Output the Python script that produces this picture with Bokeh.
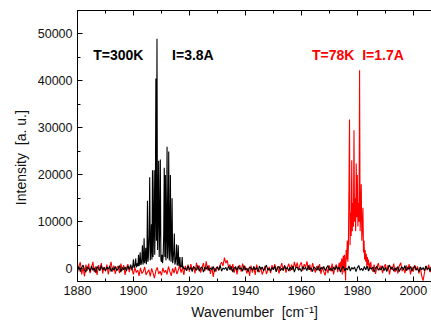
import numpy as np
from bokeh.plotting import figure
from bokeh.models import Range1d, LinearAxis, SingleIntervalTicker, Label
from bokeh.embed import file_html
from bokeh.resources import INLINE

# ---------------- data ----------------
# Black spectrum: T=300K, I=3.8A
black_a_start, black_a_step = 1880.0, 0.5
black_a = [-300, 500, -600, 300, 800, -200, -700, 400, 100, -500,
           600, -300, 200, -800, 500, 0, -400, 700, -200, 300,
           -500, 400, -100, 600, -600, 200, -300, 500, -400, 100,
           700, -700, 300, -200, 400, -500, 600, -100, 900, -300]
black_b_start, black_b_step = 1899.6, 0.2
black_b = [300, 800, 2000, 200, 600, 900, 2200, 300, 700, 1200,
           500, 3000, 600, 1400, 3500, 800, 1100, 2200, 5000, 900,
           1800, 6500, 1200, 2000, 4500, 1000, 2400, 14500, 1500, 3500,
           7000, 19500, 1800, 4000, 9500, 2000, 21000, 2500, 8000, 21000,
           3000, 11000, 40500, 6000, 49000, 4000, 12000, 23000, 2500, 9000,
           23300, 2000, 1500, 3000, 1200, 2600, 7000, 21500, 2500, 20000,
           1800, 6500, 26000, 2200, 5500, 25000, 1800, 4500, 20000, 1500,
           3500, 15000, 1200, 2000, 3800, 7500, 900, 1500, 2500, 5200,
           700, 1300, 5000, 600, 900, 2500, 300, 700, 400, 2500,
           200, 500, -100]
black_c_start, black_c_step = 1918.5, 0.5
black_c = [200, -400, 600, -200, 300, -600, 500, 100, -300, 700,
           -500, 200, 400, -700, 300, -100, 600, -400, 200, -200,
           500, -600, 100, 400, -300, 700, -500, 200, -100, 300,
           -400, 600, -200, 500, -700, 200, 300, -300, 600, -100,
           200, -500, 700, -200, 100, -600, 400, 200, -300, 500,
           -200, 300, -700, 600, -100, 400, -400, 200, 800, -300,
           100, -500, 300, -200, 600, -600, 200, 500, -400, 100,
           -300, 700, -100, 300, -500, 400, -200, 600, -700, 200,
           400, -300, 100, -600, 500, -100, 300, -400, 700, -200,
           200, -600, 400, 100, -300, 600, -500, 300, -100, 500,
           -400, 200, 700, -300, 100, -500, 400, -200, 600, -100,
           300, -700, 200, 500, -400, 100, -200, 600, -500, 300,
           -100, 400, -600, 200, 700, -300, 100, -400, 500, -200,
           600, -500, 300, -100, 400, -700, 200, 500, -300, 100,
           -200, 600, -400, 300, -600, 200, 800, -100, 400, -500,
           200, -300, 500, -600, 100, 400, -200, 700, -400, 300,
           -100, 500, -500, 200, 600, -300, 100, -600, 400, -200,
           300, -400, 600, -100, 200, -500, 700, -300, 100, 400]

# Red spectrum: T=78K, I=1.7A
red_a_start, red_a_step = 1880.0, 0.5
red_a = [-800, 600, 1400, -1200, 300, -1600, 900, -400, 1100, -900,
         200, 1500, -700, 500, -1300, 800, -300, 1200, -1000, 400,
         -500, 900, -1200, 300, 1500, -600, 700, -1100, 200, 600,
         -900, 1100, -400, 800, -1300, 200, 1000, -700, 400, -200,
         -1200, 300, -800, -300, -1500, 200, -1000, -600, 400, -1300,
         -700, -200, -1600, 100, -900, -2000, -400, 300, -1100, -500,
         -1400, 200, -800, -300, -1200, 500, -600, -1500, 100, -900,
         400, -1100, -300, 700, -800, 200, -1300, 600, -400, 900,
         -600, 1000, -300, 500, -1000, 1300, -200, 700, -800, 300,
         1200, -500, 1600, -300, 800, -1100, 400, -1700, 200, -600,
         500, -300, 900, 1400, 600, 2400, 1200, 1800, 300, 900,
         -400, 1000, -800, 600, -1200, 300, 800, -600, 1100, -300,
         500, -1000, 200, -1500, 700, -800, 400, -1300, 900, -200,
         -700, 300, -1200, -400, 600, -1100, -300, 400, -900, 800,
         -200, 1000, -600, 500, -1000, 200, 1200, -400, 700, -800,
         300, 1100, -500, 900, -300, 1500, 200, 1300, -200, 800,
         1400, -400, 1000, 300, 1600, -200, 900, -600, 1200, 100,
         -800, 600, -300, 1000, -1100, 400, -600, -1400, 300, -900,
         700, -500, 1100, -1200, 400, 900, -700, 1300]
red_b_start, red_b_step = 1973.6, 0.2
red_b = [800, -500, 1500, 300, 2200, -1200, 1800, 2800, -800, 3000,
         1500, -2500, 4000, 2000, 6000, 1500, 4500, 17000, 31800, 5000,
         12000, 7000, 23100, 8000, 14000, 9000, 29500, 10000, 15000, 8000,
         22400, 11000, 20000, 9000, 14000, 10000, 42300, 8000, 12000, 18000,
         6000, 9000, 13000, 3500, 6000, 2000, 4000, 1500, 3200, 500,
         2500, 800, 2000, -300, 1200, 400, 1500, 200]
red_c_start, red_c_step = 1985.5, 0.5
red_c = [-600, 900, -1100, 400, 1200, -300, 700, -900, 300, 1000,
         -400, 800, -1200, 500, -200, 1100, -700, 300, -1000, 600,
         1300, -500, 200, -900, 700, -300, 1000, -1200, 400, -600,
         800, -200, 500, -1000, 300, -1500, -2500, -800, 600, -300,
         900, -700, 400, -1100, 200]

x_ticks_interval = 20
y_ticks_interval = 10000
top_tick_values = [1860, 1880, 1900, 1920, 1940, 1960, 1980, 2000, 2020]


def sampled(start, step, vals):
    return [start + step * i for i in range(len(vals))]


bx = (sampled(black_a_start, black_a_step, black_a)
      + sampled(black_b_start, black_b_step, black_b)
      + sampled(black_c_start, black_c_step, black_c))
by = black_a + black_b + black_c
rx = (sampled(red_a_start, red_a_step, red_a)
      + sampled(red_b_start, red_b_step, red_b)
      + sampled(red_c_start, red_c_step, red_c))
ry = red_a + red_b + red_c

FONT = "Liberation Sans"

p = figure(width=431, height=324,
           x_range=Range1d(1880, 2006.5), y_range=Range1d(-2700, 55000),
           output_backend="svg", toolbar_location=None,
           min_border_left=77, min_border_right=0,
           min_border_top=10, min_border_bottom=43,
           x_axis_location=None, y_axis_location=None)
p.outline_line_color = None
p.xgrid.visible = False
p.ygrid.visible = False
p.background_fill_color = "white"
p.border_fill_color = "white"

xt = SingleIntervalTicker(interval=x_ticks_interval, num_minor_ticks=2)
yt = SingleIntervalTicker(interval=y_ticks_interval, num_minor_ticks=2)


def style_axis(ax):
    ax.axis_line_color = "black"
    ax.axis_line_width = 1
    ax.major_tick_in = 5
    ax.major_tick_out = 0
    ax.minor_tick_in = 3
    ax.minor_tick_out = 0
    ax.major_tick_line_color = "black"
    ax.minor_tick_line_color = "black"
    ax.major_label_text_font = FONT
    ax.major_label_text_font_size = "12.5px"
    ax.major_label_text_color = "#111111"
    ax.axis_label_text_font = FONT
    ax.axis_label_text_font_size = "14px"
    ax.axis_label_text_font_style = "normal"
    ax.axis_label_text_color = "#111111"


bottom = LinearAxis(ticker=xt, axis_label="Wavenumber\u00a0\u00a0[cm\u207b\u00b9]")
style_axis(bottom)
bottom.major_label_standoff = 4
bottom.axis_label_standoff = 6
p.add_layout(bottom, "below")

left = LinearAxis(ticker=yt, axis_label="Intensity\u00a0\u00a0[a. u.]" + "\u00a0" * 6)
style_axis(left)
left.major_label_standoff = 5
left.axis_label_standoff = 6
p.add_layout(left, "left")

top = LinearAxis(ticker=xt)
style_axis(top)
top.major_label_overrides = {v: "" for v in top_tick_values}
top.major_label_standoff = 0
p.add_layout(top, "above")

p.line(rx, ry, line_color="#ff0000", line_width=1.1)
p.line(bx, by, line_color="black", line_width=1.1)

for txt, xx, col in [("T=300K", 1885.6, "black"), ("I=3.8A", 1913.8, "black"),
                     ("T=78K\u00a0\u00a0I=1.7A", 1963.8, "#ff0000")]:
    p.add_layout(Label(x=xx, y=45500, text=txt, text_color=col,
                       text_font=FONT, text_font_size="14px",
                       text_font_style="bold", text_baseline="middle",
                       text_align="left"))

open("out.html", "w").write(file_html(p, INLINE))
